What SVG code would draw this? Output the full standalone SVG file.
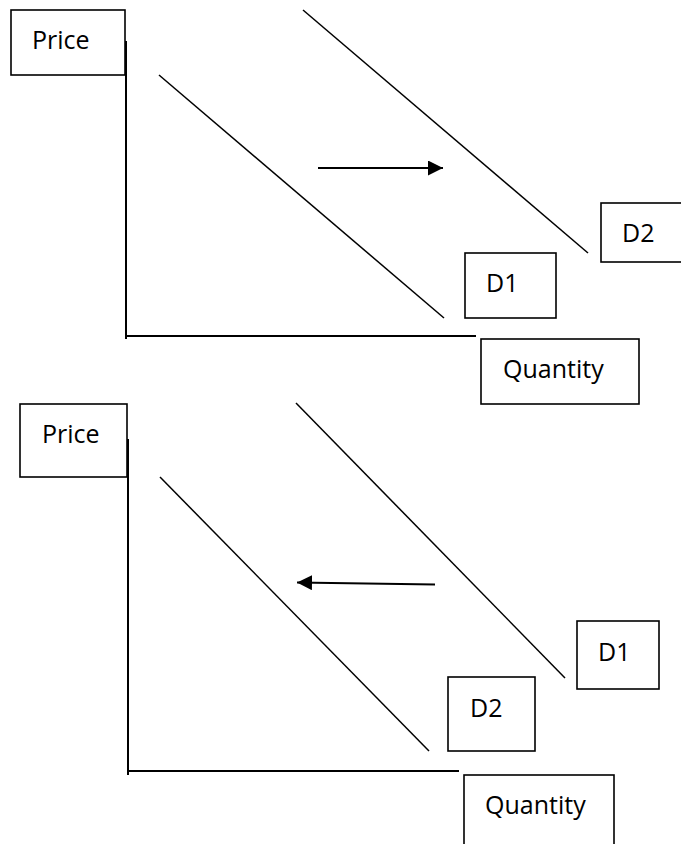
<svg xmlns="http://www.w3.org/2000/svg" width="681" height="844" viewBox="0 0 681 844">
<style>
.box{fill:#fff;stroke:#000;stroke-width:1.6}
.axis{stroke:#000;stroke-width:2;fill:none}
.curve{stroke:#000;stroke-width:1.5;fill:none}
.arr{stroke:#000;stroke-width:2;fill:none}
text{font-family:"Open Sans","Liberation Sans",sans-serif;font-size:25px;fill:#000}
</style>
<defs>
<marker id="ah" markerUnits="userSpaceOnUse" markerWidth="16" markerHeight="16" refX="15" refY="7.5" orient="auto">
<path d="M0,0 L15,7.5 L0,15 Z" fill="#000"/>
</marker>
</defs>
<rect width="681" height="844" fill="#fff"/>
<g id="top-chart">
<g id="connectors-top">
<line class="axis" x1="126" y1="41" x2="126" y2="339"/>
<line class="axis" x1="126" y1="336" x2="476" y2="336"/>
<line id="top-d1-line" class="curve" x1="159" y1="75" x2="444" y2="318"/>
<line id="top-d2-line" class="curve" x1="303" y1="10" x2="588" y2="253"/>
<line id="top-arrow" class="arr" x1="318" y1="168" x2="443" y2="168" marker-end="url(#ah)"/>
</g>
<g id="top-price"><rect class="box" x="11" y="10" width="114" height="65"/><text x="32" y="49">Price</text></g>
<g id="top-d2"><rect class="box" x="601" y="203" width="84" height="59"/><text x="622" y="242">D2</text></g>
<g id="top-d1"><rect class="box" x="465" y="253" width="91" height="65"/><text x="486" y="292">D1</text></g>
<g id="top-quantity"><rect class="box" x="481" y="339" width="158" height="65"/><text x="503" y="378">Quantity</text></g>
</g>
<g id="bottom-chart">
<g id="connectors-bottom">
<line class="axis" x1="128" y1="439" x2="128" y2="775"/>
<line class="axis" x1="128" y1="771" x2="459" y2="771"/>
<line id="bot-d2-line" class="curve" x1="160" y1="477" x2="429" y2="751"/>
<line id="bot-d1-line" class="curve" x1="296" y1="403" x2="565" y2="678"/>
<line id="bot-arrow" class="arr" x1="435" y1="584.5" x2="297" y2="582.5" marker-end="url(#ah)"/>
</g>
<g id="bottom-price"><rect class="box" x="20" y="404" width="107" height="73"/><text x="42" y="443">Price</text></g>
<g id="bottom-d1"><rect class="box" x="577" y="621" width="82" height="68"/><text x="598" y="661">D1</text></g>
<g id="bottom-d2"><rect class="box" x="448" y="677" width="87" height="74"/><text x="470" y="717">D2</text></g>
<g id="bottom-quantity"><rect class="box" x="464" y="775" width="150" height="80"/><text x="485" y="814">Quantity</text></g>
</g>
</svg>
